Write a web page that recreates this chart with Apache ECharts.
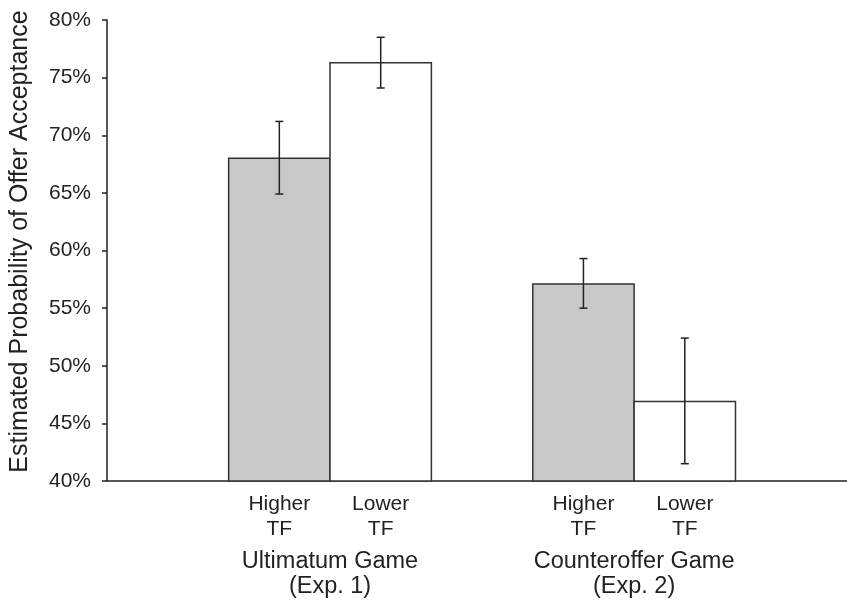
<!DOCTYPE html>
<html>
<head>
<meta charset="utf-8">
<title>Estimated Probability of Offer Acceptance</title>
<script src="https://cdn.jsdelivr.net/npm/echarts@6/dist/echarts.min.js"></script>
<style>
  html, body { margin: 0; padding: 0; background: #fff; }
  #chart { width: 847px; height: 602px; }
</style>
</head>
<body>
<div id="chart"></div>
<script>
// Experiments (groups) and the two transparency conditions inside each group
const groupLabels = ['Ultimatum Game\n(Exp. 1)', 'Counteroffer Game\n(Exp. 2)'];
const conditionLabels = ['Higher\nTF', 'Lower\nTF'];

// Estimated acceptance probability (%) per group, one array per condition
const higherTF = [68.0, 57.1];
const lowerTF = [76.3, 46.9];

// Error bar ends (%), per group
const higherTFLow = [64.9, 55.0];
const higherTFHigh = [71.2, 59.3];
const lowerTFLow = [74.1, 41.5];
const lowerTFHigh = [78.5, 52.4];

// y-axis range and step (%)
const yMin = 40, yMax = 80, yStep = 5;

// Horizontal layout in bar-width units along a hidden value axis
const xMax = 7.3;
const firstGroupCenter = 2.2;
const groupSpacing = 3;

const FONT = 'Liberation Sans, Arial, Helvetica, sans-serif';
const INK = '#222222';

const conditionValues = [higherTF, lowerTF];
const conditionLow = [higherTFLow, lowerTFLow];
const conditionHigh = [higherTFHigh, lowerTFHigh];
const conditionFill = ['#c8c8ca', '#ffffff'];

// One data row per bar: [xStart, xEnd, mean, errLow, errHigh, conditionIndex]
const barRows = [];
const condTickPos = [];
const condTickText = [];
const groupTickPos = [];
groupLabels.forEach(function (g, gi) {
  const center = firstGroupCenter + groupSpacing * gi;
  groupTickPos.push(center);
  conditionLabels.forEach(function (c, ci) {
    const x0 = center - 1 + ci;
    barRows.push([x0, x0 + 1, conditionValues[ci][gi], conditionLow[ci][gi], conditionHigh[ci][gi], ci]);
    condTickPos.push(x0 + 0.5);
    condTickText.push(c);
  });
});

function nearestIndex(list, v) {
  let best = 0;
  list.forEach(function (p, i) { if (Math.abs(p - v) < Math.abs(list[best] - v)) best = i; });
  return best;
}

const chart = echarts.init(document.getElementById('chart'), null, { renderer: 'canvas' });

chart.setOption({
  animation: false,
  backgroundColor: '#ffffff',
  grid: { left: 105, right: 0, top: 20, bottom: 121, containLabel: false },
  xAxis: [
    {
      type: 'value',
      min: 0,
      max: xMax,
      splitLine: { show: false },
      axisLine: { show: true, lineStyle: { color: INK, width: 1.5 } },
      axisTick: { show: false },
      axisLabel: {
        customValues: condTickPos,
        margin: 11,
        fontFamily: FONT,
        fontSize: 21,
        lineHeight: 25,
        color: INK,
        formatter: function (v) { return condTickText[nearestIndex(condTickPos, v)]; }
      }
    },
    {
      type: 'value',
      position: 'bottom',
      min: 0,
      max: xMax,
      splitLine: { show: false },
      axisLine: { show: false },
      axisTick: { show: false },
      axisLabel: {
        customValues: groupTickPos,
        margin: 68,
        fontFamily: FONT,
        fontSize: 23.5,
        lineHeight: 25,
        color: INK,
        formatter: function (v) { return groupLabels[nearestIndex(groupTickPos, v)]; }
      }
    }
  ],
  yAxis: {
    type: 'value',
    min: yMin,
    max: yMax,
    interval: yStep,
    name: 'Estimated Probability of Offer Acceptance',
    nameLocation: 'middle',
    nameRotate: 90,
    nameGap: 74,
    nameTextStyle: { fontFamily: FONT, fontSize: 25, color: INK, padding: [0, 0, 0, 18] },
    splitLine: { show: false },
    axisLine: { show: true, lineStyle: { color: INK, width: 1.5 } },
    axisTick: { show: true, inside: false, length: 5, lineStyle: { color: INK, width: 1.5 } },
    axisLabel: {
      margin: 16,
      fontFamily: FONT,
      fontSize: 21,
      color: INK,
      formatter: '{value}%'
    }
  },
  series: [
    {
      type: 'custom',
      xAxisIndex: 0,
      yAxisIndex: 0,
      data: barRows,
      encode: { x: [0, 1], y: [2, 3, 4] },
      z: 1,
      renderItem: function (params, api) {
        const x0 = api.value(0), x1 = api.value(1);
        const mean = api.value(2), lo = api.value(3), hi = api.value(4);
        const ci = api.value(5);
        const pTopLeft = api.coord([x0, mean]);
        const pBottomRight = api.coord([x1, yMin]);
        const xc = (x0 + x1) / 2;
        const pLo = api.coord([xc, lo]);
        const pHi = api.coord([xc, hi]);
        const cap = 4;
        const errStyle = { stroke: INK, lineWidth: 1.5 };
        return {
          type: 'group',
          children: [
            {
              type: 'rect',
              shape: {
                x: pTopLeft[0],
                y: pTopLeft[1],
                width: pBottomRight[0] - pTopLeft[0],
                height: pBottomRight[1] - pTopLeft[1]
              },
              style: { fill: conditionFill[ci], stroke: '#333333', lineWidth: 1.5 }
            },
            { type: 'line', shape: { x1: pLo[0], y1: pLo[1], x2: pHi[0], y2: pHi[1] }, style: errStyle },
            { type: 'line', shape: { x1: pLo[0] - cap, y1: pLo[1], x2: pLo[0] + cap, y2: pLo[1] }, style: errStyle },
            { type: 'line', shape: { x1: pHi[0] - cap, y1: pHi[1], x2: pHi[0] + cap, y2: pHi[1] }, style: errStyle }
          ]
        };
      }
    }
  ]
});
</script>
</body>
</html>
